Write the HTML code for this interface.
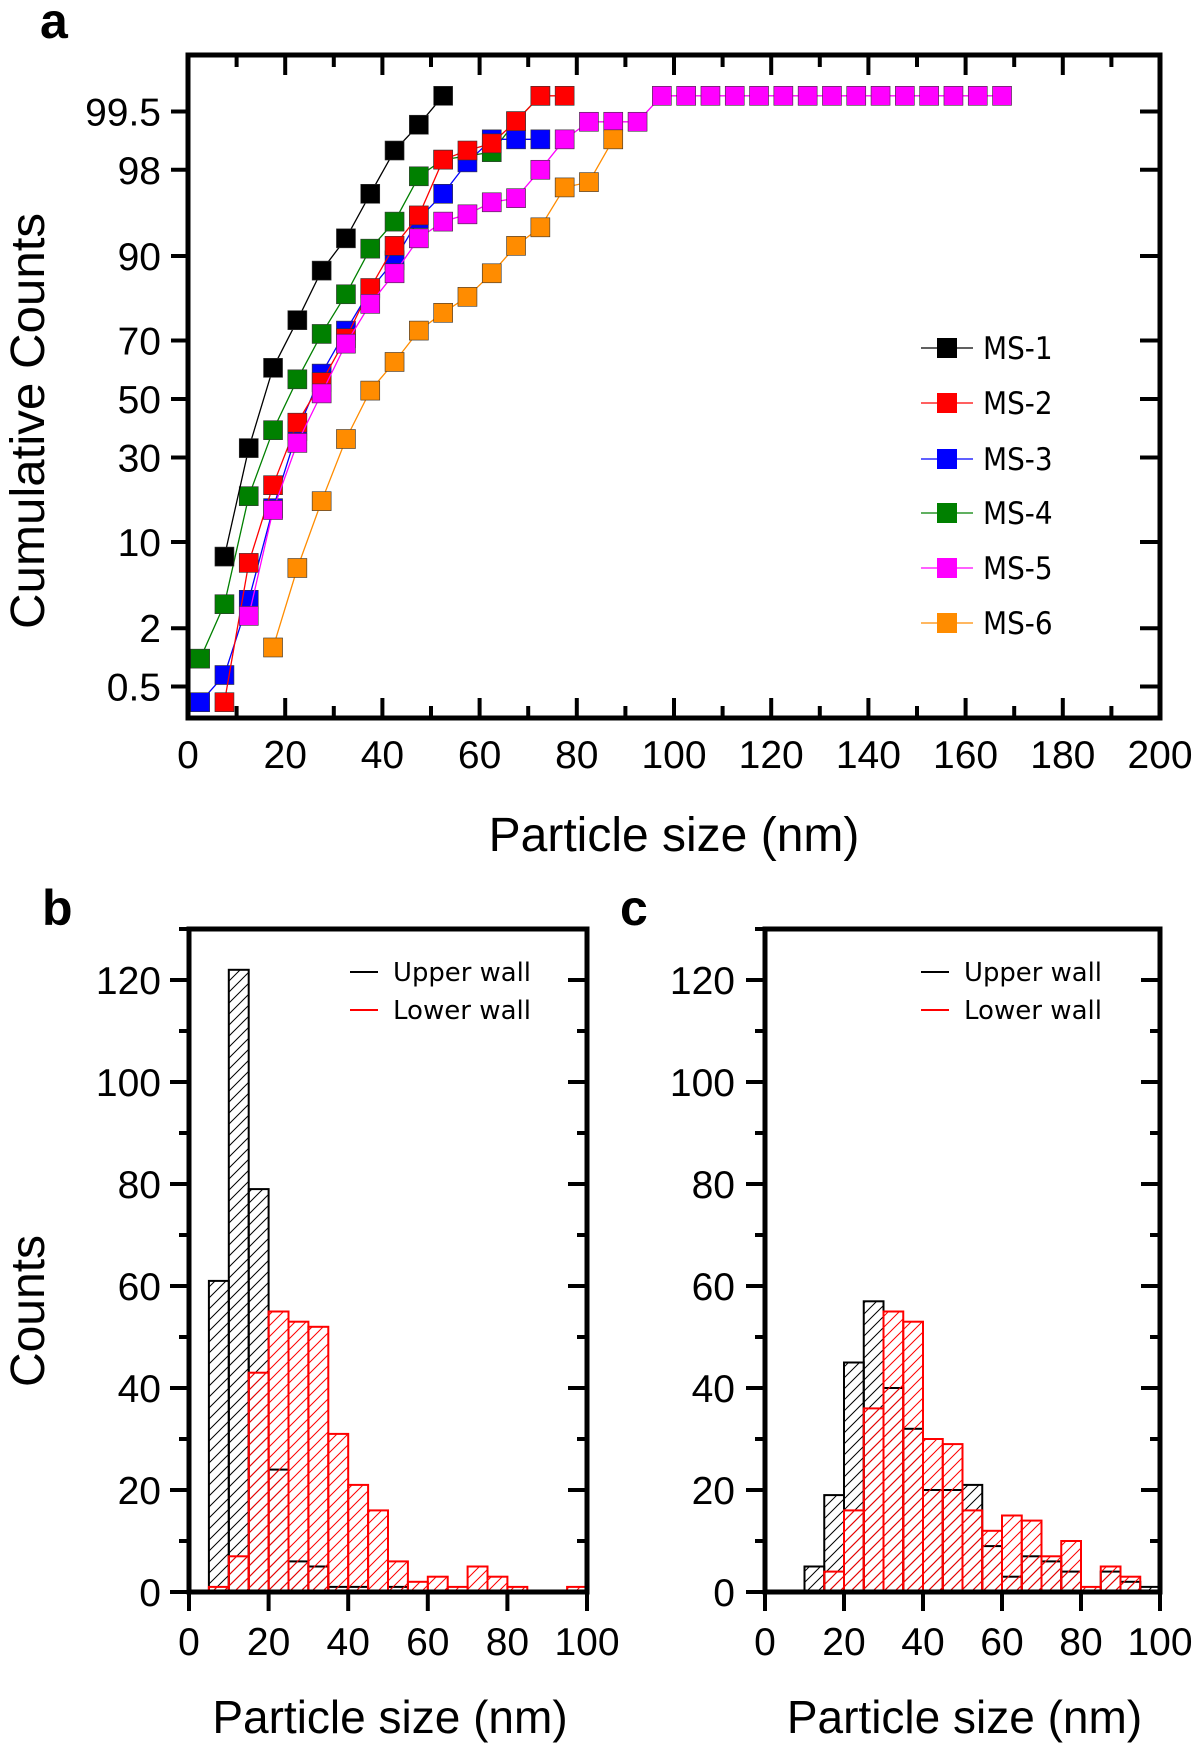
<!DOCTYPE html>
<html><head><meta charset="utf-8"><style>
html,body{margin:0;padding:0;background:#fff}
svg{display:block;font-family:"Liberation Sans",sans-serif}
</style></head><body>
<svg id="fig" width="1200" height="1753" viewBox="0 0 1200 1753" xmlns="http://www.w3.org/2000/svg">
<defs>
<pattern id="hatchK" patternUnits="userSpaceOnUse" width="11" height="11"><path d="M-1,12 L12,-1 M-3,3 L3,-3 M8,14 L14,8" stroke="#000" stroke-width="1"/></pattern>
<pattern id="hatchR" patternUnits="userSpaceOnUse" width="11" height="11"><path d="M-1,12 L12,-1 M-3,3 L3,-3 M8,14 L14,8" stroke="#f00" stroke-width="1"/></pattern>
</defs>
</svg>
<script>
// ---------- Panel a data ----------
const seriesNames = ['MS-1','MS-2','MS-3','MS-4','MS-5','MS-6'];
const seriesColors = ['#000000','#ff0000','#0000ff','#008000','#ff00ff','#ff8c00'];
const ms1X = [7.5,12.5,17.5,22.5,27.5,32.5,37.5,42.5,47.5,52.5];
const ms1Y = [7.9,33,61,76,87.5,92.5,96.7,98.7,99.3,99.67];
const ms2X = [7.5,12.5,17.5,22.5,27.5,32.5,37.5,42.5,47.5,52.5,57.5,62.5,67.5,72.5,77.5];
const ms2Y = [0.33,7.1,22,41.6,56,70.7,84,91.5,95,98.4,98.7,98.9,99.36,99.67,99.67];
const ms3X = [2.5,7.5,12.5,17.5,22.5,27.5,32.5,37.5,42.5,47.5,52.5,57.5,62.5,67.5,72.5];
const ms3Y = [0.33,0.67,3.6,16.4,38.7,59,73,83.6,89.3,94.7,96.7,98.3,99.0,99.0,99.0];
const ms4X = [2.5,7.5,12.5,17.5,22.5,27.5,32.5,37.5,42.5,47.5,52.5,62.5,67.5,72.5];
const ms4Y = [1.0,3.3,19.2,39,57,72,82.6,91.1,94.4,97.7,98.4,98.65,99.36,99.67];
const ms5X = [12.5,17.5,22.5,27.5,32.5,37.5,42.5,47.5,52.5,57.5,62.5,67.5,72.5,77.5,82.5,87.5,92.5,97.5,102.5,107.5,112.5,117.5,122.5,127.5,132.5,137.5,142.5,147.5,152.5,157.5,162.5,167.5];
const ms5Y = [2.6,16,34.7,52,69,80.3,87,92.5,94.4,95.1,96.1,96.4,98.0,99.0,99.35,99.35,99.35,99.67,99.67,99.67,99.67,99.67,99.67,99.67,99.67,99.67,99.67,99.67,99.67,99.67,99.67,99.67];
const ms6X = [17.5,22.5,27.5,32.5,37.5,42.5,47.5,52.5,57.5,62.5,67.5,72.5,77.5,82.5,87.5];
const ms6Y = [1.3,6.5,18,36,53,63,73,78,82,87,91.5,93.8,97.1,97.4,99.0];
const aXTicks = [0,20,40,60,80,100,120,140,160,180,200];
const aYTicks = [0.5,2,10,30,50,70,90,98,99.5];
const aYLabels = ['0.5','2','10','30','50','70','90','98','99.5'];

// ---------- Histogram data (bins of 5 nm starting at binStart) ----------
const binStart = [5,10,15,20,25,30,35,40,45,50,55,60,65,70,75,80,85,90,95];
const bUpper = [61,122,79,24,6,5,1,1,0,1,0,0,0,0,0,0,0,0,0];
const bLower = [1,7,43,55,53,52,31,21,16,6,2,3,1,5,3,1,0,0,1];
const cUpper = [0,5,19,45,57,40,32,20,20,21,9,3,7,6,4,0,4,2,1];
const cLower = [0,0,4,16,36,55,53,30,29,16,12,15,14,7,10,1,5,3,0];
const hXTicks = [0,20,40,60,80,100];
const hYTicks = [0,20,40,60,80,100,120];

const NS='http://www.w3.org/2000/svg';
const svg=document.getElementById('fig');
function mk(tag,attrs,parent){const e=document.createElementNS(NS,tag);for(const k in attrs)e.setAttribute(k,attrs[k]);(parent||svg).appendChild(e);return e;}
function txt(s,attrs,parent){const e=mk('text',attrs,parent);e.textContent=s;return e;}

// inverse normal CDF (Acklam)
function probit(p){
 const a=[-3.969683028665376e+01,2.209460984245205e+02,-2.759285104469687e+02,1.383577518672690e+02,-3.066479806614716e+01,2.506628277459239e+00];
 const b=[-5.447609879822406e+01,1.615858368580409e+02,-1.556989798598866e+02,6.680131188771972e+01,-1.328068155288572e+01];
 const c=[-7.784894002430293e-03,-3.223964580411365e-01,-2.400758277161838e+00,-2.549732539343734e+00,4.374664141464968e+00,2.938163982698783e+00];
 const d=[7.784695709041462e-03,3.224671290700398e-01,2.445134137142996e+00,3.754408661907416e+00];
 const pl=0.02425;let q,r;
 if(p<pl){q=Math.sqrt(-2*Math.log(p));return (((((c[0]*q+c[1])*q+c[2])*q+c[3])*q+c[4])*q+c[5])/((((d[0]*q+d[1])*q+d[2])*q+d[3])*q+1);}
 if(p>1-pl){q=Math.sqrt(-2*Math.log(1-p));return -(((((c[0]*q+c[1])*q+c[2])*q+c[3])*q+c[4])*q+c[5])/((((d[0]*q+d[1])*q+d[2])*q+d[3])*q+1);}
 q=p-0.5;r=q*q;return (((((a[0]*r+a[1])*r+a[2])*r+a[3])*r+a[4])*r+a[5])*q/(((((b[0]*r+b[1])*r+b[2])*r+b[3])*r+b[4])*r+1);
}

// ================= Panel a =================
const A={l:188,r:1160,t:55,b:718};
const ax=v=>A.l+(v/200)*(A.r-A.l);
const y99=111.5,y05=686.5,z995=probit(0.995);
const ay=v=>{const c=(y99+y05)/2,u=(y05-y99)/(2*z995);return c-probit(v/100)*u;};

const ga=mk('g',{});


const la=txt('a',{x:40,y:38,'font-size':50,'font-weight':'bold'},ga);


// series (drawing order: MS-4 first so MS-2 markers sit on top)
const allX=[ms1X,ms2X,ms3X,ms4X,ms5X,ms6X], allY=[ms1Y,ms2Y,ms3Y,ms4Y,ms5Y,ms6Y];
const drawOrder=[3,2,1,0,4,5];
drawOrder.forEach(i=>{
 const xs=allX[i];
 const g=mk('g',{},ga);
 
 
 const pts=xs.map((x,j)=>ax(x).toFixed(1)+','+ay(allY[i][j]).toFixed(1)).join(' ');
 const pl=mk('polyline',{points:pts,fill:'none',stroke:seriesColors[i],'stroke-width':1.3},g);
 
 
 xs.forEach((x,j)=>{
  const m=mk('rect',{x:ax(x)-9.5,y:ay(allY[i][j])-9.5,width:19,height:19,fill:seriesColors[i],stroke:'#333','stroke-width':0.6},g);
  
  
 });
});

// axes a
const fa=mk('rect',{x:A.l,y:A.t,width:A.r-A.l,height:A.b-A.t,fill:'none',stroke:'#000','stroke-width':5},ga);

for(let v=0;v<=200;v+=10){
 const x=ax(v),L=(v%20===0)?20:12;
 mk('line',{x1:x,y1:A.b,x2:x,y2:A.b-L,stroke:'#000','stroke-width':4},ga);
 mk('line',{x1:x,y1:A.t,x2:x,y2:A.t+L,stroke:'#000','stroke-width':4},ga);
}
aXTicks.forEach(v=>{
 const t=txt(String(v),{x:ax(v),y:768,'font-size':39,'text-anchor':'middle'},ga);
 
});
aYTicks.forEach((v,i)=>{
 const y=ay(v);
 mk('line',{x1:A.l-17,y1:y,x2:A.l,y2:y,stroke:'#000','stroke-width':4},ga);
 mk('line',{x1:A.r-20,y1:y,x2:A.r,y2:y,stroke:'#000','stroke-width':4},ga);
 const t=txt(aYLabels[i],{x:161,y:y+14,'font-size':39,'text-anchor':'end'},ga);
 
});
const xta=txt('Particle size (nm)',{x:674,y:851,'font-size':48,'text-anchor':'middle'},ga);

const yta=txt('Cumulative Counts',{x:0,y:0,'font-size':48,'text-anchor':'middle',transform:'translate(44,421) rotate(-90)',textLength:416,lengthAdjust:'spacingAndGlyphs'},ga);


// legend a
const legY=[348,403,459,513,568,623];
seriesNames.forEach((n,i)=>{
 const g=mk('g',{},ga);
 
 
 mk('line',{x1:921,y1:legY[i],x2:973,y2:legY[i],stroke:seriesColors[i],'stroke-width':1.3},g);
 mk('rect',{x:937,y:legY[i]-10,width:20,height:20,fill:seriesColors[i]},g);
 txt(n,{x:983,y:legY[i]+11,'font-size':31,'font-family':'"DejaVu Sans Condensed","Liberation Sans",sans-serif'},g);
});

// ================= Histograms =================
function hist(P,upper,lower,label,labelX,name,legX,yLabRight,showYTitle){
 const g=mk('g',{});
 
 
 const hx=v=>P.l+(v/100)*(P.r-P.l);
 const hy=v=>P.b-(v/130)*(P.b-P.t);
 const lb=txt(label,{x:labelX,y:925,'font-size':50,'font-weight':'bold'},g);
 
 [[upper,'#000','url(#hatchK)','upper'],[lower,'#f00','url(#hatchR)','lower']].forEach(([arr,col,fill,nm])=>{
  arr.forEach((v,i)=>{
   if(v<=0)return;
   const x0=hx(binStart[i]),x1=hx(binStart[i]+5);
   const r=mk('rect',{x:x0,y:hy(v),width:x1-x0,height:hy(0)-hy(v),fill:fill,stroke:col,'stroke-width':2},g);
   
   
  });
 });
 const fr=mk('rect',{x:P.l,y:P.t,width:P.r-P.l,height:P.b-P.t,fill:'none',stroke:'#000','stroke-width':5},g);
 
 for(let v=0;v<=130;v+=10){
  const y=hy(v),L=(v%20===0)?19:10;
  mk('line',{x1:P.l-L,y1:y,x2:P.l,y2:y,stroke:'#000','stroke-width':4},g);
  mk('line',{x1:P.r-L,y1:y,x2:P.r,y2:y,stroke:'#000','stroke-width':4},g);
 }
 hYTicks.forEach(v=>{
  const t=txt(String(v),{x:yLabRight,y:hy(v)+14,'font-size':39,'text-anchor':'end'},g);
  
 });
 for(let v=0;v<=100;v+=20){
  mk('line',{x1:hx(v),y1:P.b,x2:hx(v),y2:P.b+19,stroke:'#000','stroke-width':4},g);
 }
 hXTicks.forEach(v=>{
  const t=txt(String(v),{x:hx(v),y:1655,'font-size':39,'text-anchor':'middle'},g);
  
 });
 const xt=txt('Particle size (nm)',{x:(P.l+P.r)/2+2,y:1733,'font-size':46,'text-anchor':'middle'},g);
 
 if(showYTitle){
  const yt=txt('Counts',{x:0,y:0,'font-size':48,'text-anchor':'middle',transform:'translate(44,1311) rotate(-90)'},g);
  
 }
 const lg1=mk('g',{},g);
 
 
 mk('line',{x1:legX,y1:972,x2:legX+28,y2:972,stroke:'#000','stroke-width':2},lg1);
 txt('Upper wall',{x:legX+43,y:981,'font-size':26,textLength:138,lengthAdjust:'spacingAndGlyphs','font-family':'"DejaVu Sans","Liberation Sans",sans-serif'},lg1);
 const lg2=mk('g',{},g);
 
 
 mk('line',{x1:legX,y1:1010,x2:legX+28,y2:1010,stroke:'#f00','stroke-width':2},lg2);
 txt('Lower wall',{x:legX+43,y:1019,'font-size':26,textLength:138,lengthAdjust:'spacingAndGlyphs','font-family':'"DejaVu Sans","Liberation Sans",sans-serif'},lg2);
}
hist({l:189,r:587,t:929,b:1592},bUpper,bLower,'b',42,'panel-b',350,161,true);
hist({l:765,r:1160,t:929,b:1592},cUpper,cLower,'c',620,'panel-c',921,735,false);
</script>
</body></html>
